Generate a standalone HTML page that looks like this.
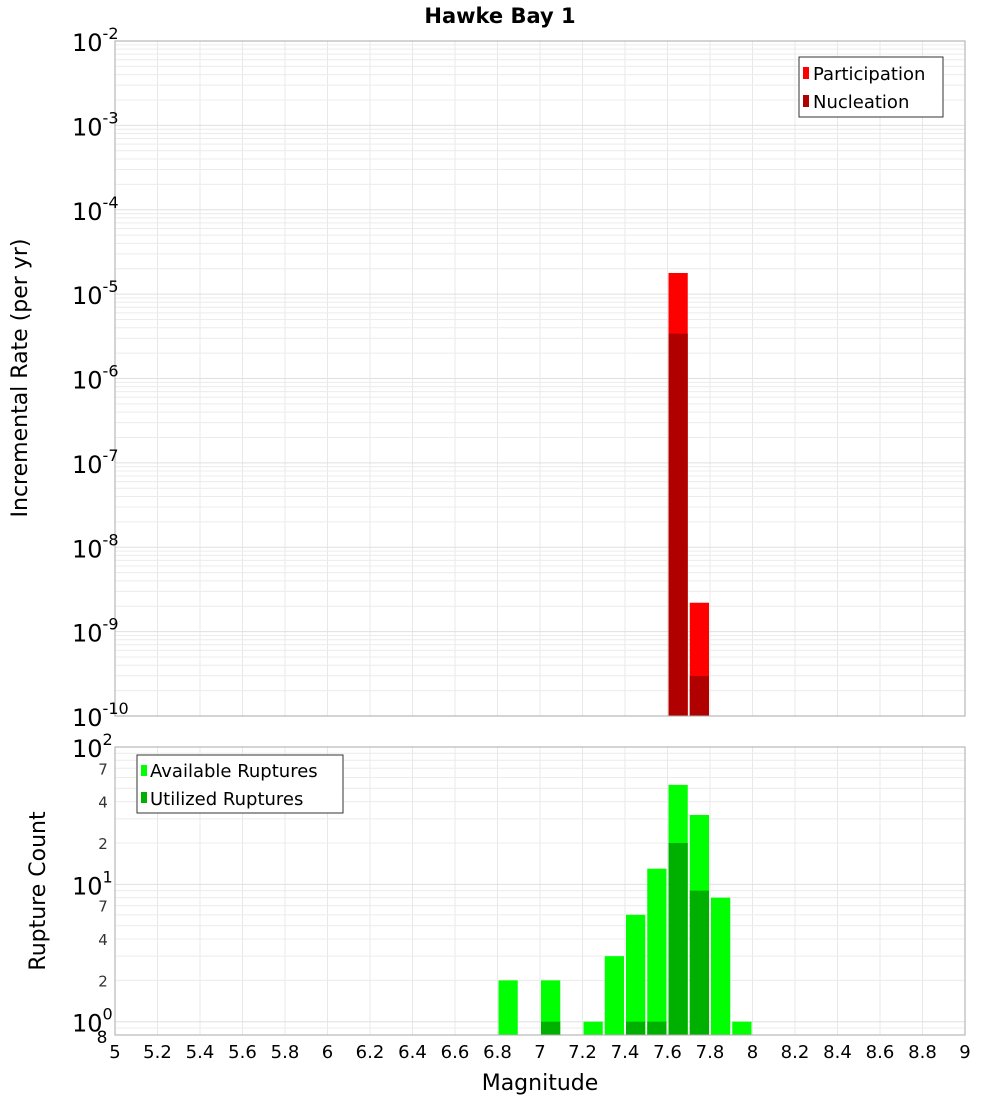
<!DOCTYPE html>
<html><head><meta charset="utf-8"><style>
body{margin:0;background:#fff;}
svg{display:block;font-family:"DejaVu Sans","Liberation Sans",sans-serif;}
</style></head><body>
<svg id="chart" width="1000" height="1100" xmlns="http://www.w3.org/2000/svg">
<text x="500" y="23" text-anchor="middle" font-size="21" font-weight="bold">Hawke Bay 1</text>
<g id="grid"></g>
<g id="bars"></g>
<rect x="115" y="41" width="850" height="675" fill="none" stroke="#aaa"/>
<rect x="115" y="747" width="850" height="288" fill="none" stroke="#aaa"/>
<g id="axes"></g>
<text transform="translate(27,378) rotate(-90)" text-anchor="middle" font-size="22">Incremental Rate (per yr)</text>
<text transform="translate(45,891) rotate(-90)" text-anchor="middle" font-size="22">Rupture Count</text>
<text x="540" y="1090" text-anchor="middle" font-size="22">Magnitude</text>
<g>
<rect x="799" y="57" width="144" height="60" fill="#fff" stroke="#333"/>
<rect x="803" y="67" width="6" height="12" fill="#ff0000"/>
<text x="813" y="80" font-size="18">Participation</text>
<rect x="803" y="95" width="6" height="12" fill="#b00000"/>
<text x="813" y="108" font-size="18">Nucleation</text>
</g>
<g>
<rect x="137" y="755" width="206" height="58" fill="#fff" stroke="#333"/>
<rect x="141" y="765" width="6" height="11" fill="#00ff00"/>
<text x="150" y="777" font-size="18">Available Ruptures</text>
<rect x="141" y="792" width="6" height="11" fill="#00b000"/>
<text x="150" y="805" font-size="18">Utilized Ruptures</text>
</g>
</svg>
<script>
const mags = [6.85, 7.05, 7.25, 7.35, 7.45, 7.55, 7.65, 7.75, 7.85, 7.95];
const available = [2, 2, 1, 3, 6, 13, 53, 32, 8, 1];
const utilized = [0, 1, 0, 0, 1, 1, 20, 9, 0, 0];
const rateMags = [7.65, 7.75];
const participation = [1.78e-5, 2.2e-9];
const nucleation = [3.4e-6, 2.97e-10];
const xTicks = [5,5.2,5.4,5.6,5.8,6,6.2,6.4,6.6,6.8,7,7.2,7.4,7.6,7.8,8,8.2,8.4,8.6,8.8,9];
const topDecades = [-10,-9,-8,-7,-6,-5,-4,-3,-2];
const botDecades = [0,1,2];
const botMinor = [2,4,7];

const NS="http://www.w3.org/2000/svg";
const X0=115,X1=965,M0=5,M1=9;
const x=m=>X0+(m-M0)/(M1-M0)*(X1-X0);
const TT=41,TB=716,TL0=-2,TL1=-10;
const yT=v=>TT+(TL0-Math.log10(v))/(TL0-TL1)*(TB-TT);
const BT=747,BB=1035,BL0=2,BL1=Math.log10(0.8);
const yB=v=>BT+(BL0-Math.log10(v))/(BL0-BL1)*(BB-BT);
function el(tag,attrs,parent,txt){const e=document.createElementNS(NS,tag);for(const k in attrs)e.setAttribute(k,attrs[k]);if(txt!==undefined)e.textContent=txt;parent.appendChild(e);return e;}
const grid=document.getElementById('grid'),bars=document.getElementById('bars'),axes=document.getElementById('axes');
// vertical grid
xTicks.forEach(t=>{
  const ln1=el('line',{x1:x(t),x2:x(t),y1:TT,y2:TB,stroke:'#e8e8e8'},grid);
  
  
  const ln2=el('line',{x1:x(t),x2:x(t),y1:BT,y2:BB,stroke:'#e8e8e8'},grid);
  
  
  const tx=el('text',{x:x(t),y:1058,'text-anchor':'middle','font-size':18},axes,String(t));
  
  
});
// top horizontal grid
for(let d=-10;d<-2;d++){for(let k=1;k<=9;k++){const v=k*Math.pow(10,d);const y=yT(v);
  const ln=el('line',{x1:X0,x2:X1,y1:y,y2:y,stroke:k==1?'#e0e0e0':'#ececec'},grid);
  
  }}
topDecades.forEach(d=>{const y=yT(Math.pow(10,d));
  const t=el('text',{x:72,y:y+10,'font-size':24},axes);
  
  
  el('tspan',{},t,'10');el('tspan',{dy:-12,'font-size':16},t,String(d));});
// bottom horizontal grid
for(let d=-1;d<2;d++){for(let k=1;k<=9;k++){const v=k*Math.pow(10,d);if(v<0.8)continue;const y=yB(v);
  const ln=el('line',{x1:X0,x2:X1,y1:y,y2:y,stroke:k==1?'#e0e0e0':'#ececec'},grid);
  
  }}
botDecades.forEach(d=>{const y=yB(Math.pow(10,d));
  const t=el('text',{x:72,y:y+10,'font-size':24},axes);
  
  
  el('tspan',{},t,'10');el('tspan',{dy:-12,'font-size':16},t,String(d));
  if(d<2)botMinor.forEach(k=>{const yy=yB(k*Math.pow(10,d));
    const m=el('text',{x:103,y:yy+6,'text-anchor':'middle','font-size':15,fill:'#333'},axes,String(k));
    
    });});
{const m=el('text',{x:102,y:1043,'text-anchor':'middle','font-size':17},axes,'8');
  
  }
// top bars
const bw=0.1*(X1-X0)/(M1-M0);
rateMags.forEach((m,i)=>{
  const r1=el('rect',{x:x(m)-bw/2+1,y:yT(participation[i]),width:bw-2,height:TB-yT(participation[i]),fill:'#ff0000'},bars);
  
  
  const r2=el('rect',{x:x(m)-bw/2+1,y:yT(nucleation[i]),width:bw-2,height:TB-yT(nucleation[i]),fill:'#b00000'},bars);
  
  
});
mags.forEach((m,i)=>{
  const r1=el('rect',{x:x(m)-bw/2+1,y:yB(available[i]),width:bw-2,height:BB-yB(available[i]),fill:'#00ff00'},bars);
  
  
  if(utilized[i]>0){
  const r2=el('rect',{x:x(m)-bw/2+1,y:yB(utilized[i]),width:bw-2,height:BB-yB(utilized[i]),fill:'#00b000'},bars);
  
  }
});
</script>
</body></html>
